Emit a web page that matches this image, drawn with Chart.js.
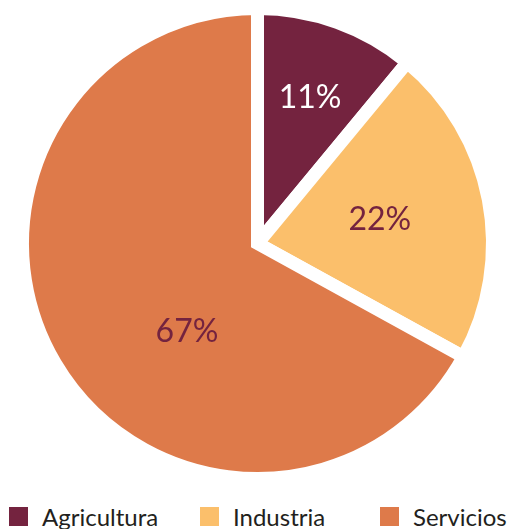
<!DOCTYPE html>
<html>
<head>
<meta charset="utf-8">
<script src="https://cdn.jsdelivr.net/npm/chart.js@4"></script>
<style>
  html, body { margin: 0; padding: 0; background: #fff; overflow: hidden; }
  .wrap { position: relative; width: 510px; height: 529px; }
  .chart-box { position: absolute; left: 0; top: 0; width: 510px; height: 490px; }
  .legend { position: absolute; left: 0; right: 0; top: 505px; height: 24px;
            font-family: Lato, sans-serif; font-size: 24px; color: #231f20; }
  .legend-item { position: absolute; top: 0; display: flex; align-items: center; height: 23px; white-space: nowrap; }
  .legend-box { width: 19px; height: 19px; margin-right: 14px; }
</style>
</head>
<body>
<div class="wrap">
  <div class="chart-box"><canvas id="pie"></canvas></div>
  <div class="legend" id="legend"></div>
</div>
<script>
const categories = ['Agricultura', 'Industria', 'Servicios'];
const shares = [11, 22, 67];
const sliceColors = ['#74233f', '#fbbf6b', '#de7a4a'];
const labelColors = ['#ffffff', '#74233f', '#74233f'];
// where the % label sits: fraction of radius, and angle nudge in degrees
const labelSpots = [{ r: 0.66, turn: 0 }, { r: 0.53, turn: 0 }, { r: 0.48, turn: -20.7 }];
// left edge of each legend entry
const legendLeft = [9, 200, 380];

const percentLabels = {
  id: 'percentLabels',
  afterDatasetsDraw(chart) {
    const ctx = chart.ctx;
    const arcs = chart.getDatasetMeta(0).data;
    ctx.save();
    ctx.font = '32px Lato, sans-serif';
    ctx.textAlign = 'center';
    ctx.textBaseline = 'middle';
    arcs.forEach((arc, i) => {
      const p = arc.getProps(['x', 'y', 'startAngle', 'endAngle', 'outerRadius'], true);
      const mid = (p.startAngle + p.endAngle) / 2 + labelSpots[i].turn * Math.PI / 180;
      const r = p.outerRadius * labelSpots[i].r;
      ctx.fillStyle = labelColors[i];
      ctx.fillText(shares[i] + '%', p.x + Math.cos(mid) * r, p.y + Math.sin(mid) * r);
    });
    ctx.restore();
  }
};

const chart = new Chart(document.getElementById('pie'), {
  type: 'pie',
  data: {
    labels: categories,
    datasets: [{
      data: shares,
      backgroundColor: sliceColors,
      borderColor: '#ffffff',
      borderWidth: 13,
      hoverBorderWidth: 13,
      borderJoinStyle: 'miter',
      hoverOffset: 0,
      offset: 0
    }]
  },
  options: {
    responsive: true,
    maintainAspectRatio: false,
    animation: false,
    events: [],
    layout: { padding: { left: 5, top: 2, bottom: 5 } },
    plugins: {
      legend: { display: false },
      tooltip: { enabled: false }
    }
  },
  plugins: [percentLabels]
});

// legend under the pie, built from the same arrays
const legendEl = document.getElementById('legend');
categories.forEach((name, i) => {
  const item = document.createElement('div');
  item.className = 'legend-item';
  item.style.left = legendLeft[i] + 'px';
  const box = document.createElement('span');
  box.className = 'legend-box';
  box.style.background = sliceColors[i];
  const txt = document.createElement('span');
  txt.textContent = name;
  item.appendChild(box);
  item.appendChild(txt);
  legendEl.appendChild(item);
});
</script>
</body>
</html>
